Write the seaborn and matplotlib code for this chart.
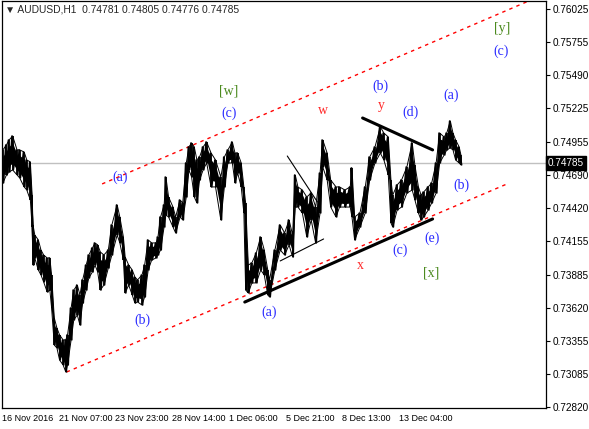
import pandas as pd
import matplotlib
matplotlib.use("Agg")
import matplotlib.pyplot as plt
import matplotlib.transforms as mtransforms
import seaborn as sns

# hourly bars (index from the first visible bar) with high / low
bar_idx = [1, 5, 8, 12, 17, 20, 25, 28, 32, 34, 35, 37, 41, 44, 47, 51, 54, 56, 59, 62,
           65, 69, 72, 74, 78, 81, 85, 88, 91, 95, 98, 102, 105, 108, 111, 115, 120, 124, 130, 133,
           137, 139, 143, 147, 150, 153, 158, 161, 165, 169, 174, 176, 179, 183, 185, 188, 193, 196, 201, 204,
           208, 211, 214, 217, 220, 223, 227, 231, 236, 241, 247, 251, 255, 260, 263, 266, 270, 273, 275, 278,
           282, 287, 292, 296, 300, 302, 308, 314, 319, 324, 328, 331, 334, 339, 344, 349, 354, 359, 362, 367,
           371, 377, 381, 387, 393, 395, 398, 404, 410, 415, 421, 427, 431, 436, 439, 441, 446, 451, 457, 463,
           466, 470, 473, 476, 481, 485, 490, 494, 499, 502, 506, 509, 512, 516, 518]
high = [0.74890, 0.74930, 0.74970, 0.75002, 0.74890, 0.74890, 0.74873, 0.74809, 0.74793, 0.74527,
        0.74286, 0.74205, 0.74165, 0.74084, 0.74044, 0.74020, 0.74020, 0.73883, 0.73537, 0.73456,
        0.73400, 0.73360, 0.73360, 0.73400, 0.73617, 0.73762, 0.73802, 0.73722, 0.73843, 0.73963,
        0.74044, 0.74100, 0.74141, 0.74125, 0.74068, 0.74044, 0.74084, 0.74286, 0.74447, 0.74350,
        0.74189, 0.74028, 0.73963, 0.73923, 0.73867, 0.73843, 0.73883, 0.73963, 0.74165, 0.74141,
        0.74141, 0.74189, 0.74350, 0.74447, 0.74672, 0.74511, 0.74430, 0.74350, 0.74487, 0.74463,
        0.74785, 0.74914, 0.74946, 0.74914, 0.74809, 0.74833, 0.74914, 0.74954, 0.74865, 0.74809,
        0.74672, 0.74833, 0.74890, 0.74954, 0.74865, 0.74865, 0.74785, 0.74592, 0.74463, 0.73963,
        0.73980, 0.74060, 0.74189, 0.74084, 0.73923, 0.73843, 0.74084, 0.74286, 0.74221, 0.74326,
        0.74205, 0.74688, 0.74592, 0.74567, 0.74511, 0.74543, 0.74430, 0.74704, 0.74970, 0.74865,
        0.74648, 0.74592, 0.74592, 0.74567, 0.74592, 0.74745, 0.74350, 0.74382, 0.74592, 0.74833,
        0.74914, 0.75075, 0.75026, 0.74994, 0.74648, 0.74527, 0.74608, 0.74648, 0.74753, 0.74946,
        0.74769, 0.74592, 0.74527, 0.74551, 0.74592, 0.74624, 0.74785, 0.75026, 0.74994, 0.75026,
        0.75123, 0.75026, 0.74970, 0.74914, 0.74849]
low = [0.74624, 0.74688, 0.74712, 0.74729, 0.74688, 0.74664, 0.74592, 0.74567, 0.74487, 0.74269,
       0.73963, 0.74020, 0.73923, 0.73883, 0.73827, 0.73746, 0.73762, 0.73617, 0.73319, 0.73295,
       0.73198, 0.73158, 0.73102, 0.73158, 0.73360, 0.73521, 0.73561, 0.73480, 0.73657, 0.73762,
       0.73859, 0.73907, 0.73963, 0.73907, 0.73762, 0.73802, 0.73939, 0.74044, 0.74205, 0.74141,
       0.74004, 0.73738, 0.73802, 0.73722, 0.73657, 0.73666, 0.73641, 0.73706, 0.73923, 0.74004,
       0.74020, 0.74044, 0.74084, 0.74269, 0.74366, 0.74350, 0.74269, 0.74221, 0.74350, 0.74326,
       0.74511, 0.74729, 0.74672, 0.74511, 0.74463, 0.74648, 0.74729, 0.74785, 0.74592, 0.74592,
       0.74326, 0.74592, 0.74785, 0.74785, 0.74624, 0.74704, 0.74592, 0.74382, 0.73762, 0.73738,
       0.73819, 0.73819, 0.73923, 0.73883, 0.73722, 0.73706, 0.73923, 0.74084, 0.74044, 0.74125,
       0.74028, 0.74430, 0.74430, 0.74382, 0.74189, 0.74326, 0.74141, 0.74382, 0.74753, 0.74648,
       0.74430, 0.74350, 0.74430, 0.74430, 0.74430, 0.74350, 0.74165, 0.74269, 0.74382, 0.74648,
       0.74785, 0.74865, 0.74809, 0.74688, 0.74302, 0.74269, 0.74406, 0.74430, 0.74543, 0.74567,
       0.74487, 0.74382, 0.74326, 0.74350, 0.74406, 0.74463, 0.74543, 0.74785, 0.74849, 0.74890,
       0.74906, 0.74890, 0.74809, 0.74785, 0.74769]

last_price = 0.74785
header = "AUDUSD,H1  0.74781 0.74805 0.74776 0.74785"

# axis ticks
price_ticks = [0.76025, 0.75755, 0.75490, 0.75225, 0.74955, 0.74690, 0.74420,
               0.74155, 0.73885, 0.73620, 0.73355, 0.73085, 0.72820]
time_ticks = [0, 64, 128, 192, 256, 320, 384, 448]
time_labels = ["16 Nov 2016", "21 Nov 07:00", "23 Nov 23:00", "28 Nov 14:00",
               "1 Dec 06:00", "5 Dec 21:00", "8 Dec 13:00", "13 Dec 04:00"]

# trend channel (red dotted) and hand drawn lines, as (bar, price) end points
chan_up_bar = [113, 620]
chan_up_price = [0.74616, 0.76167]
chan_lo_bar = [73, 570]
chan_lo_price = [0.73102, 0.74616]
support_bar = [274, 486]
support_price = [0.73665, 0.74334]
resist_bar = [407, 486]
resist_price = [0.75147, 0.74890]
thin1_bar = [322, 356]
thin1_price = [0.74841, 0.74471]
thin2_bar = [314, 363]
thin2_price = [0.73996, 0.74173]

# wave labels
wave_text = ["(a)", "(b)", "(c)", "[w]", "w", "(a)", "x", "(b)", "y", "(d)",
             "(c)", "(e)", "[x]", "(a)", "(b)", "[y]", "(c)"]
wave_bar = [133, 159, 256, 256, 362, 302, 404, 427, 428, 461,
            449, 485, 484, 507, 518, 564, 563]
wave_price = [0.74672, 0.73521, 0.75188, 0.75365, 0.75204, 0.73585, 0.73963, 0.75405, 0.75244, 0.75196,
              0.74084, 0.74181, 0.73899, 0.75332, 0.74608, 0.75864, 0.75687]
BLUE = "#2a2aff"
RED = "#ff2a2a"
GREEN = "#4b8a1e"
wave_color = [BLUE, BLUE, BLUE, GREEN, RED, BLUE, RED, BLUE, RED, BLUE,
              BLUE, BLUE, GREEN, BLUE, BLUE, GREEN, BLUE]

sns.set_style("white")
plt.rcParams["font.family"] = ["Liberation Sans", "DejaVu Sans"]

fig = plt.figure(figsize=(5.89, 4.29), dpi=100)
ax = fig.add_axes([2 / 589, 1 - 408 / 429, 544 / 589, 407 / 429])

df = pd.DataFrame({"bar": bar_idx, "high": high, "low": low})
rng = df["high"] - df["low"]

# zig-zag high -> low -> high to get the dense bar texture
zz = pd.DataFrame({
    "bar": [b + d for b in bar_idx for d in (-0.8, 0.8)],
    "price": [v for h, l in zip(high, low) for v in (h, l)],
})

# current price line
ax.axhline(last_price, color="#c0c0c0", lw=1, zorder=1)

# price bars: solid core, jagged edges
ax.fill_between(df["bar"], df["low"] + 0.2 * rng, df["high"] - 0.2 * rng,
                color="black", lw=0, zorder=3)
ax.vlines(df["bar"], df["low"], df["high"], color="black", lw=1.3, zorder=3)
sns.lineplot(data=zz, x="bar", y="price", color="black", lw=1.1, ax=ax, zorder=3,
             sort=False, estimator=None)
sns.lineplot(data=df, x="bar", y="high", color="black", lw=0.7, ax=ax, zorder=3)
sns.lineplot(data=df, x="bar", y="low", color="black", lw=0.7, ax=ax, zorder=3)

# channel
for xs, ys in [(chan_up_bar, chan_up_price), (chan_lo_bar, chan_lo_price)]:
    ax.plot(xs, ys, color="red", lw=1, linestyle=(0, (2.5, 3)), zorder=2)

ax.plot(support_bar, support_price, color="black", lw=2.2, zorder=4)
ax.plot(resist_bar, resist_price, color="black", lw=2.2, zorder=4)
ax.plot(thin1_bar, thin1_price, color="black", lw=0.8, zorder=4)
ax.plot(thin2_bar, thin2_price, color="black", lw=0.8, zorder=4)

for t, b, p, c in zip(wave_text, wave_bar, wave_price, wave_color):
    ax.text(b, p, t, color=c, fontsize=10, family="Liberation Serif",
            ha="center", va="center", zorder=5)

ax.set_xlim(0, 614)
ax.set_ylim(0.72812, 0.76089)
ax.set_xlabel("")
ax.set_ylabel("")

ax.yaxis.tick_right()
ax.set_yticks(price_ticks)
ax.set_yticklabels([f"{v:.5f}" for v in price_ticks])
ax.set_xticks(time_ticks)
ax.set_xticklabels(time_labels, ha="left")
ax.tick_params(axis="both", direction="out", length=3, width=0.8, color="black",
               labelcolor="black", pad=2)
ax.tick_params(axis="x", pad=1, labelsize=6.5)
ax.tick_params(axis="y", labelsize=7.2)
for s in ax.spines.values():
    s.set_color("black")
    s.set_linewidth(0.9)

# last price tag on the right axis
trans = mtransforms.blended_transform_factory(ax.transAxes, ax.transData)
ax.text(1.003, last_price, "0.74785", transform=trans, color="white", fontsize=7.2,
        ha="left", va="center", zorder=6,
        bbox=dict(boxstyle="square,pad=0.2", fc="black", ec="black"))

# header
fig.text(5 / 589, 1 - 10 / 429, "\u25bc " + header, fontsize=7.4, ha="left", va="center",
         family=["Liberation Sans", "DejaVu Sans"])

fig.savefig("out.png", dpi=100)
